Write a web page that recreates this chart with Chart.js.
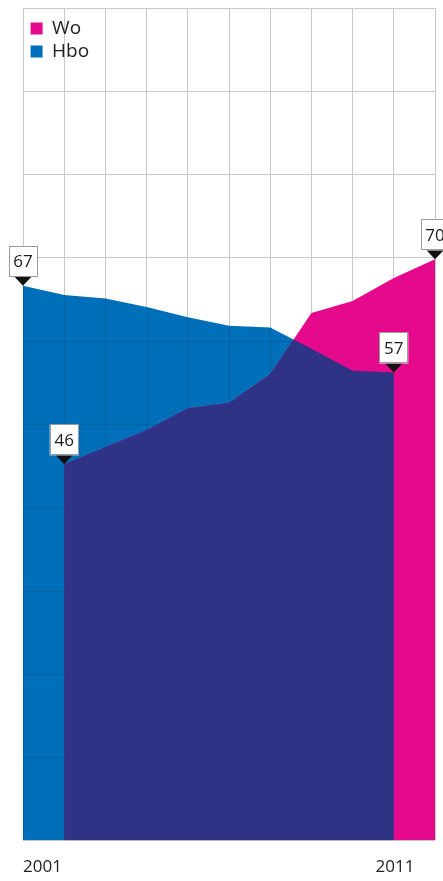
<!DOCTYPE html>
<html>
<head>
<meta charset="utf-8">
<script src="https://cdn.jsdelivr.net/npm/chart.js@4.4.1/dist/chart.umd.min.js"></script>
<style>
  html, body { margin: 0; padding: 0; background: #fff; }
  #wrap { width: 443px; height: 881px; position: relative; }
</style>
</head>
<body>
<div id="wrap"><canvas id="myChart"></canvas></div>
<script>
// values
const hboYears = [2001, 2002, 2003, 2004, 2005, 2006, 2007, 2008, 2009, 2010];
const hboValues = [67.0, 65.9, 65.5, 64.5, 63.3, 62.3, 62.1, 59.6, 57.0, 56.8];
const woYears = [2002, 2003, 2004, 2005, 2006, 2007, 2008, 2009, 2010, 2011];
const woValues = [46.0, 48.0, 50.0, 52.6, 53.2, 56.6, 63.8, 65.2, 67.9, 70.1];
const tickYears = [2001, 2010.5];
const tickLabels = ['2001', '2011'];

const blue = '#006fb9';
const pink = '#e5098b';
const purple = '#2f3386';

Chart.defaults.font.family = '"Open Sans", "Noto Sans", sans-serif';

function pts(xs, ys) {
    return xs.map((x, i) => ({ x: x, y: ys[i] }));
}

function areaPath(points, bottom, p) {
    p = p || new Path2D();
    p.moveTo(points[0].x, bottom);
    points.forEach(pt => p.lineTo(pt.x, pt.y));
    p.lineTo(points[points.length - 1].x, bottom);
    p.closePath();
    return p;
}

function drawTag(ctx, x, y, text) {
    const w = 29, h = 31, tri = 9, half = 8.5;
    ctx.fillStyle = '#111';
    ctx.beginPath();
    ctx.moveTo(x - half, y - tri);
    ctx.lineTo(x + half, y - tri);
    ctx.lineTo(x, y);
    ctx.closePath();
    ctx.fill();
    const top = y - tri - h;
    ctx.fillStyle = '#fff';
    ctx.fillRect(x - w / 2, top, w, h);
    ctx.strokeStyle = '#9a9a9a';
    ctx.lineWidth = 1;
    ctx.strokeRect(Math.round(x - w / 2) + 0.5, Math.round(top) + 0.5, w - 1, h - 1);
    ctx.fillStyle = '#1a1a1a';
    ctx.font = '17px "Open Sans"';
    ctx.textAlign = 'center';
    ctx.textBaseline = 'middle';
    ctx.fillText(text, x, top + h / 2 + 1);
}

const overlapAndTags = {
    id: 'overlapAndTags',
    afterLayout(chart) {
        // legend sits a little in from the corner
        chart.legend.left += 3.6;
        chart.legend.top += 15;
    },
    afterDatasetsDraw(chart) {
        const ctx = chart.ctx;
        const area = chart.chartArea;
        const bottom = area.bottom;
        const wo = chart.getDatasetMeta(0).data;
        const hbo = chart.getDatasetMeta(1).data;

        // overlap of both areas in purple
        ctx.save();
        ctx.clip(areaPath(hbo, bottom));
        ctx.fillStyle = purple;
        ctx.fill(areaPath(wo, bottom));
        ctx.restore();

        // faint grid shows through the blue-only part
        ctx.save();
        ctx.clip(areaPath(hbo, bottom));
        const both = areaPath(wo, bottom, areaPath(hbo, bottom));
        ctx.clip(both, 'evenodd');
        ctx.strokeStyle = 'rgba(0,0,0,0.12)';
        ctx.lineWidth = 1;
        ctx.beginPath();
        chart.scales.x.ticks.forEach(t => {
            const px = Math.round(chart.scales.x.getPixelForValue(t.value)) + 0.5;
            ctx.moveTo(px, area.top);
            ctx.lineTo(px, area.bottom);
        });
        chart.scales.y.ticks.forEach(t => {
            const py = Math.round(chart.scales.y.getPixelForValue(t.value)) + 0.5;
            ctx.moveTo(area.left, py);
            ctx.lineTo(area.right, py);
        });
        ctx.stroke();
        ctx.restore();

        ctx.save();
        [[hbo, hboValues], [wo, woValues]].forEach(([els, vals]) => {
            const last = els.length - 1;
            drawTag(ctx, els[0].x, els[0].y, String(Math.round(vals[0])));
            drawTag(ctx, els[last].x, els[last].y, String(Math.round(vals[last])));
        });
        ctx.restore();
    }
};

const ctx = document.getElementById('myChart').getContext('2d');
const chart = new Chart(ctx, {
    type: 'line',
    data: {
        datasets: [{
            label: 'Wo',
            data: pts(woYears, woValues),
            backgroundColor: pink,
            borderColor: pink,
            borderWidth: 0,
            pointRadius: 0,
            fill: 'origin'
        }, {
            label: 'Hbo',
            data: pts(hboYears, hboValues),
            backgroundColor: blue,
            borderColor: blue,
            borderWidth: 0,
            pointRadius: 0,
            fill: 'origin'
        }]
    },
    options: {
        responsive: true,
        maintainAspectRatio: false,
        animation: false,
        layout: { padding: { left: 23, right: 8, top: 8, bottom: -13.7 } },
        plugins: {
            tooltip: { enabled: false },
            legend: {
                position: 'chartArea',
                align: 'start',
                labels: {
                    boxWidth: 12,
                    boxHeight: 12,
                    padding: 4,
                    color: '#222',
                    font: { size: 19 }
                }
            }
        },
        scales: {
            x: {
                type: 'linear',
                min: 2001,
                max: 2011,
                ticks: { display: false, stepSize: 1 },
                grid: { color: '#c8c8c8', drawTicks: false },
                border: { display: false }
            },
            x2: {
                type: 'linear',
                position: 'bottom',
                min: 2001,
                max: 2011,
                afterBuildTicks: axis => { axis.ticks = tickYears.map(v => ({ value: v })); },
                ticks: {
                    align: 'inner',
                    padding: 17,
                    maxRotation: 0,
                    autoSkip: false,
                    color: '#222',
                    font: { size: 17 },
                    callback: (v, i) => tickLabels[i]
                },
                grid: { display: false, drawTicks: false },
                border: { display: false }
            },
            y: {
                min: 1.8,
                max: 99.65,
                afterBuildTicks: axis => {
                    const t = [];
                    for (let i = 0; i <= 10; i++) t.push({ value: axis.min + i * (axis.max - axis.min) / 10 });
                    axis.ticks = t;
                },
                ticks: { display: false },
                grid: { color: '#c8c8c8', drawTicks: false },
                border: { display: false }
            }
        }
    },
    plugins: [overlapAndTags]
});
</script>
</body>
</html>
